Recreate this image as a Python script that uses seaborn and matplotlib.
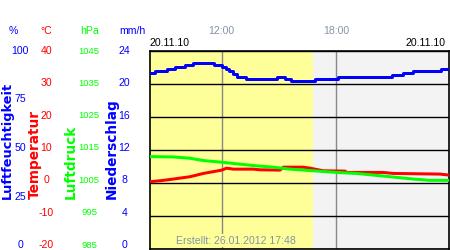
import matplotlib
matplotlib.use("Agg")
import matplotlib.pyplot as plt
import seaborn as sns

# ---------------- data ----------------
hum_hours = [8.25, 8.51, 9.12, 9.56, 10.08, 10.48, 11.60, 12.00, 12.23, 12.40, 12.61,
             12.82, 13.27, 14.88, 15.31, 15.61, 16.88, 18.10, 20.90, 21.48, 22.03, 23.47, 23.90]
hum_vals = [89, 90, 91, 92, 93, 94, 93, 92, 91, 90, 88.5,
            87, 86, 87, 86, 85, 86, 87, 88, 89, 90, 91, 91]

temp_hours = [8.25, 8.8, 9.47, 10.34, 11.04, 12.0, 12.26, 12.61, 13.66, 14.0, 15.05,
              15.23, 16.27, 16.62, 17.32, 18.46, 18.55, 20.46, 20.98, 23.43, 23.9]
temp_vals = [0.4, 0.7, 1.2, 1.9, 2.9, 3.9, 4.5, 4.2, 4.2, 4.0, 3.9,
             4.8, 4.8, 4.5, 3.7, 3.6, 3.2, 3.2, 2.9, 2.7, 2.4]

pres_hours = [8.25, 9.47, 10.34, 11.04, 12.0, 12.96, 13.83, 14.70, 15.58, 16.80,
              18.02, 19.07, 20.12, 21.16, 22.03, 22.91, 23.9]
pres_vals = [1013.0, 1012.9, 1012.5, 1011.8, 1011.3, 1010.7, 1010.2, 1009.8, 1009.2, 1008.7,
             1008.2, 1007.9, 1007.3, 1006.7, 1006.2, 1005.8, 1005.8]

hum_ticks = [0, 25, 50, 75, 100]
temp_ticks = [-20, -10, 0, 10, 20, 30, 40]
pres_ticks = [985, 995, 1005, 1015, 1025, 1035, 1045]
rain_ticks = [0, 4, 8, 12, 16, 20, 24]
time_ticks = [12, 18]
time_labels = ["12:00", "18:00"]
x_start, x_end = 8.246, 23.885
daylight_end = 16.76
date_label = "20.11.10"
created_label = "Erstellt: 26.01.2012 17:48"

# ---------------- style ----------------
sns.set_theme(style="white")
plt.rcParams["font.family"] = ["Liberation Sans", "DejaVu Sans"]

BLUE = "#0000FF"
RED = "#FF0000"
GREEN = "#00FF00"
GREY_TXT = "#8494A8"
YELLOW = "#FFFF99"
LIGHT = "#F3F3F3"
FS = 7.6
PX = 72 / 100  # points per pixel

fig = plt.figure(figsize=(4.5, 2.5), dpi=100)
L, R, T, B = 150, 448.7, 51, 249
ax = fig.add_axes([L / 450, 1 - B / 250, (R - L) / 450, (B - T) / 250])
ax.set_xlim(x_start, x_end)
ax.set_ylim(temp_ticks[0], temp_ticks[-1])
ax.set_facecolor("white")
ax.axvspan(x_start, daylight_end, color=YELLOW, lw=0, zorder=0)
ax.axvspan(daylight_end, x_end, color=LIGHT, lw=0, zorder=0)

for s in ax.spines.values():
    s.set_color("black")
    s.set_linewidth(1.2)

ax.set_yticks(temp_ticks)
ax.tick_params(axis="y", length=0, labelleft=False, labelright=False)
ax.set_xticks(time_ticks, labels=time_labels, color=GREY_TXT, fontsize=FS)
ax.tick_params(axis="x", top=True, bottom=False, labeltop=True, labelbottom=False,
               length=0, pad=11)
ax.yaxis.grid(True, color="black", lw=1.0)
ax.xaxis.grid(True, color="#888888", lw=1.0)
ax.set_axisbelow(True)

# data axes sharing the plot area
ax_h = ax.twinx()
ax_p = ax.twinx()
for a, lim in [(ax_h, (0, 100)), (ax_p, (985, 1045))]:
    a.set_ylim(*lim)
    a.set_yticks([])
    a.grid(False)
    for s in a.spines.values():
        s.set_visible(False)

lw = 3 * PX
sns.lineplot(x=temp_hours, y=temp_vals, ax=ax, color=RED, lw=lw, zorder=3)
sns.lineplot(x=pres_hours, y=pres_vals, ax=ax_p, color=GREEN, lw=lw)
sns.lineplot(x=hum_hours, y=hum_vals, ax=ax_h, color=BLUE, lw=lw, drawstyle="steps-post")
for a in (ax, ax_h, ax_p):
    a.set_xlim(x_start, x_end)
    a.set_ylabel("")
    a.set_xlabel("")
ax.set_ylim(temp_ticks[0], temp_ticks[-1])
ax_h.set_ylim(0, 100)
ax_p.set_ylim(985, 1045)
ax_h.set_yticks([])
ax_p.set_yticks([])

# tick-label columns (labels in the reference sit on a slightly compressed scale)
LT, LB = 50, 244
for ticks, col, cx, fs in [
    (hum_ticks, BLUE, 20, FS),
    (temp_ticks, RED, 46.5, FS),
    (pres_ticks, GREEN, 89, 6.8),
    (rain_ticks, BLUE, 124.5, FS),
]:
    la = fig.add_axes([L / 450, 1 - LB / 250, (R - L) / 450, (LB - LT) / 250])
    la.patch.set_visible(False)
    for s in la.spines.values():
        s.set_visible(False)
    la.set_ylim(ticks[0], ticks[-1])
    la.set_xticks([])
    la.set_yticks(ticks, labels=[str(v) for v in ticks], color=col, fontsize=fs, ha="center")
    la.tick_params(axis="y", length=0, pad=(L - cx) * PX)
    la.grid(False)

# header unit labels
for txt, cx, col in [("%", 13.5, BLUE), ("°C", 46.5, RED), ("hPa", 90, GREEN), ("mm/h", 132.5, BLUE)]:
    fig.text(cx / 450, 1 - 31 / 250, txt, color=col, fontsize=FS, ha="center", va="center")

# rotated axis titles
for txt, cx, col, ha, fs in [("Luftfeuchtigkeit", 0.5, BLUE, "left", 9.3),
                             ("Temperatur", 35, RED, "center", 9.8),
                             ("Luftdruck", 71, GREEN, "center", 9.8),
                             ("Niederschlag", 111.5, BLUE, "center", 9.8)]:
    fig.text(cx / 450, 1 - 199 / 250, txt, color=col, fontsize=fs, fontweight="bold",
             family="DejaVu Sans", rotation=90, ha=ha, va="bottom")

# date labels
fig.text(150 / 450, 1 - 43.5 / 250, date_label, color="black", fontsize=FS, ha="left", va="center")
fig.text(446 / 450, 1 - 43.5 / 250, date_label, color="black", fontsize=FS, ha="right", va="center")

# created stamp
fig.text(236 / 450, 1 - 240.5 / 250, created_label, color=GREY_TXT, fontsize=FS,
         ha="center", va="center", zorder=10,
         bbox=dict(facecolor=YELLOW, edgecolor="none", pad=1.0))

fig.savefig("out.png", dpi=100)
